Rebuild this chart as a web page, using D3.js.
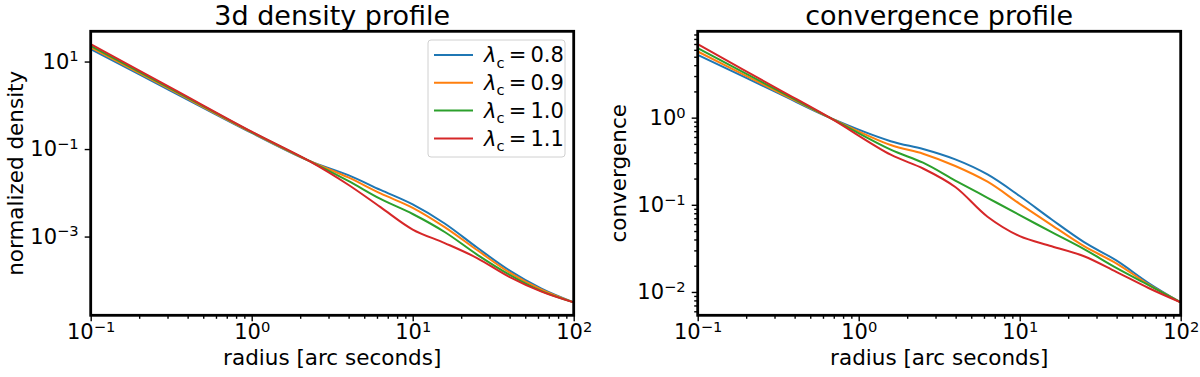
<!DOCTYPE html>
<meta charset="utf-8">
<style>
body { margin: 0; background: #fff; }
svg { font-family: "DejaVu Sans", sans-serif; }
.line { fill: none; stroke-width: 2px; }
.frame { fill: none; stroke: #000; stroke-width: 2.8px; }
.axis path { display: none; }
.axis line { stroke: #000; stroke-width: 1.4px; }
.axis text { font-size: 21px; fill: #000; font-family: "DejaVu Sans", sans-serif; }
.title { font-size: 27px; }
.label { font-size: 21.5px; }
.legend text { font-size: 21px; }
</style>
<body>
<script src="https://d3js.org/d3.v7.min.js"></script>
<script>

// series labels and colours
var lambdas = [0.8, 0.9, 1.0, 1.1];
var colors = ["#1f77b4", "#ff7f0e", "#2ca02c", "#d62728"];

// 3d density profile
var radiusDensity = [0.1, 0.316, 1, 2.24, 3.98, 6.31, 10, 15.8, 25.1, 39.8, 63.1, 100];
var density08 = [19.2, 2.12, 0.234, 0.0551, 0.0254, 0.01164, 0.00542, 0.00199, 0.000561, 0.000169, 6.46e-5, 3.13e-5];
var density09 = [21.0, 2.24, 0.240, 0.0551, 0.0225, 0.00968, 0.00455, 0.00165, 0.000492, 0.000152, 6.12e-5, 3.13e-5];
var density10 = [22.9, 2.37, 0.245, 0.0551, 0.0187, 0.00724, 0.00328, 0.00127, 0.000388, 0.000135, 5.66e-5, 3.13e-5];
var density11 = [24.9, 2.51, 0.250, 0.0551, 0.0153, 0.00470, 0.00145, 0.000711, 0.000323, 0.000120, 5.51e-5, 3.13e-5];

// convergence profile
var radiusKappa = [0.1, 0.316, 0.66, 1.58, 2.51, 3.98, 6.31, 10, 15.8, 25.1, 39.8, 63.1, 100];
var kappa08 = [5.26, 1.91, 1.0, 0.537, 0.437, 0.332, 0.223, 0.126, 0.0678, 0.0373, 0.0230, 0.01268, 0.00759];
var kappa09 = [5.74, 1.97, 1.0, 0.485, 0.386, 0.279, 0.184, 0.1026, 0.0585, 0.0335, 0.0213, 0.0122, 0.00759];
var kappa10 = [6.26, 2.04, 1.0, 0.429, 0.304, 0.190, 0.1203, 0.0762, 0.0485, 0.0310, 0.0189, 0.0120, 0.00759];
var kappa11 = [6.96, 2.13, 1.0, 0.376, 0.261, 0.160, 0.0730, 0.0437, 0.0335, 0.0257, 0.0170, 0.0111, 0.00759];

// tick values
var xTicks = [0.1, 1, 10, 100];
var densityTicks = [10, 0.1, 0.001];
var kappaTicks = [1, 0.1, 0.01];

var width = 483, height = 284, marginTop = 31.3;

var svg = d3.select("body")
  .append("svg")
    .attr("width", 1200)
    .attr("height", 377);

// minor ticks 2..9 per decade inside a domain
function minorTicks(domain) {
  var out = [];
  var lo = Math.floor(Math.log10(domain[0])), hi = Math.ceil(Math.log10(domain[1]));
  for (var e = lo; e <= hi; e++)
    for (var m = 2; m <= 9; m++) {
      var v = m * Math.pow(10, e);
      if (v >= domain[0] && v <= domain[1]) out.push(v);
    }
  return out;
}

// write 10^n labels like matplotlib
function powerLabels(sel) {
  sel.selectAll(".tick text").each(function(d) {
    var e = Math.round(Math.log10(d));
    var t = d3.select(this).text("");
    t.append("tspan").text("10");
    t.append("tspan")
      .attr("dy", "-0.5em")
      .attr("font-size", "70%")
      .text(e < 0 ? "\u2212" + (-e) : e);
  });
}

// y limits with 5% margin in log space
function logLimits(series) {
  var all = [].concat.apply([], series);
  var lo = Math.log10(d3.min(all)), hi = Math.log10(d3.max(all));
  var m = 0.05 * (hi - lo);
  return [Math.pow(10, lo - m), Math.pow(10, hi + m)];
}

function panel(left, opts) {
  var g = svg.append("g")
      .attr("transform", "translate(" + left + "," + marginTop + ")");

  var x = d3.scaleLog().domain([0.1, 100]).range([0, width]);
  var y = d3.scaleLog().domain(logLimits(opts.series)).range([height, 0]);

  var line = d3.line()
      .x(function(d) { return x(d[0]); })
      .y(function(d) { return y(d[1]); })
      .curve(d3.curveCatmullRom.alpha(0.5));

  opts.series.forEach(function(s, i) {
    g.append("path")
        .datum(d3.zip(opts.radius, s))
        .attr("class", "line")
        .style("stroke", colors[i])
        .attr("d", line);
  });

  // X axis
  g.append("g")
      .attr("class", "axis")
      .attr("transform", "translate(0," + height + ")")
      .call(d3.axisBottom(x).tickValues(minorTicks(x.domain())).tickSize(3.5).tickFormat(""));
  g.append("g")
      .attr("class", "axis")
      .attr("transform", "translate(0," + height + ")")
      .call(d3.axisBottom(x).tickValues(xTicks).tickSize(6).tickPadding(3))
      .call(powerLabels);

  // Y axis
  if (opts.yMinor) {
    g.append("g")
        .attr("class", "axis")
        .call(d3.axisLeft(y).tickValues(minorTicks(y.domain())).tickSize(3.5).tickFormat(""));
  }
  g.append("g")
      .attr("class", "axis")
      .call(d3.axisLeft(y).tickValues(opts.yTicks).tickSize(6).tickPadding(6))
      .call(powerLabels);

  g.append("rect")
      .attr("class", "frame")
      .attr("width", width)
      .attr("height", height);

  g.append("text")
      .attr("class", "title")
      .attr("x", width / 2)
      .attr("y", -6)
      .attr("text-anchor", "middle")
      .text(opts.title);

  g.append("text")
      .attr("class", "label")
      .attr("x", width / 2)
      .attr("y", height + 50)
      .attr("text-anchor", "middle")
      .text("radius [arc seconds]");

  g.append("text")
      .attr("class", "label")
      .attr("transform", "rotate(-90)")
      .attr("x", -height / 2)
      .attr("y", opts.yLabelX)
      .attr("text-anchor", "middle")
      .text(opts.yLabel);

  return g;
}

var g1 = panel(90.7, {
  title: "3d density profile",
  yLabel: "normalized density",
  yLabelX: -67.5,
  radius: radiusDensity,
  series: [density08, density09, density10, density11],
  yTicks: densityTicks,
  yMinor: false
});

panel(697.7, {
  title: "convergence profile",
  yLabel: "convergence",
  yLabelX: -71.5,
  radius: radiusKappa,
  series: [kappa08, kappa09, kappa10, kappa11],
  yTicks: kappaTicks,
  yMinor: true
});

// legend in the first panel
var legend = g1.append("g")
    .attr("class", "legend")
    .attr("transform", "translate(" + (428 - 90.7) + "," + (40 - marginTop) + ")");

legend.append("rect")
    .attr("width", 137)
    .attr("height", 117)
    .attr("rx", 3)
    .style("fill", "#fff")
    .style("fill-opacity", 0.8)
    .style("stroke", "#d0d0d0");

lambdas.forEach(function(l, i) {
  var row = legend.append("g")
      .attr("transform", "translate(0," + (15 + i * 27.8) + ")");
  row.append("line")
      .attr("x1", 6).attr("x2", 45)
      .style("stroke", colors[i])
      .style("stroke-width", 2);
  var t = row.append("text")
      .attr("x", 56)
      .attr("dy", "0.35em");
  t.append("tspan").style("font-style", "italic").text("\u03bb");
  t.append("tspan").attr("font-size", "70%").attr("dy", "0.35em").text("c");
  t.append("tspan").attr("dy", "-0.25em").text("\u2009=\u2009" + l.toFixed(1));
});

</script>
</body>
